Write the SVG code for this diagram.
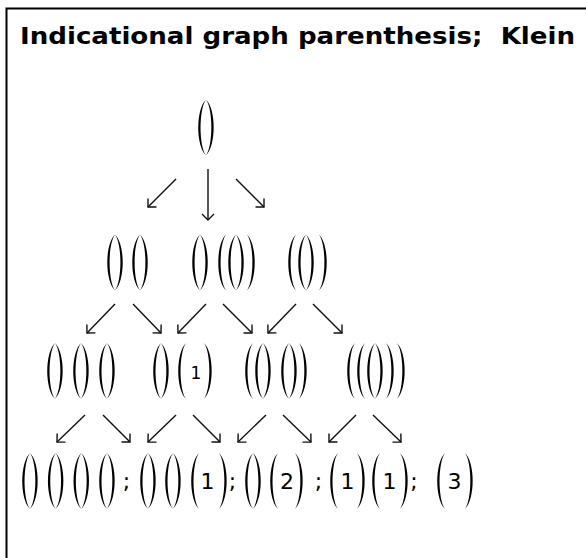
<svg xmlns="http://www.w3.org/2000/svg" xmlns:xlink="http://www.w3.org/1999/xlink" width="586" height="558" viewBox="0 0 586 558">
<style>
.title{font-family:"DejaVu Sans","Verdana",sans-serif;font-weight:bold;font-size:23px;fill:#000}
.d3{font-family:"DejaVu Sans",sans-serif;font-size:17px;fill:#000;text-anchor:middle}
.d4{font-family:"DejaVu Sans",sans-serif;font-size:22px;fill:#000;text-anchor:middle}
.p{fill:#000}
.arr{stroke:#111;stroke-width:1.4;fill:none;marker-end:url(#ah)}
</style>
<defs>
<marker id="ah" markerWidth="14" markerHeight="14" refX="0" refY="0" viewBox="-8 -7 10 14" orient="auto" markerUnits="userSpaceOnUse">
<path d="M-6,-6 L0,0 L-6,6" fill="none" stroke="#111" stroke-width="1.4"/>
</marker>
<path id="lp" d="M8,0 C-2.3,10 -2.3,46 8,56 C0.8,46 0.8,10 8,0 Z"/>
<path id="rp" d="M0,0 C10.3,10 10.3,46 0,56 C7.2,46 7.2,10 0,0 Z"/>
</defs>
<rect x="0" y="0" width="586" height="558" fill="#fff"/>
<path d="M6.5,560 L6.5,8.5 L590,8.5" fill="none" stroke="#000" stroke-width="2"/>
<text class="title" x="20" y="44" xml:space="preserve" textLength="555" lengthAdjust="spacingAndGlyphs">Indicational graph parenthesis;  Klein</text>

<g id="connectors">
<line class="arr" x1="176" y1="179" x2="148" y2="207"/>
<line class="arr" x1="208" y1="169" x2="208" y2="220"/>
<line class="arr" x1="236" y1="179" x2="264" y2="207"/>
<line class="arr" x1="115" y1="304" x2="87" y2="333"/>
<line class="arr" x1="133" y1="304" x2="161" y2="333"/>
<line class="arr" x1="206" y1="304" x2="178" y2="333"/>
<line class="arr" x1="223" y1="304" x2="252" y2="333"/>
<line class="arr" x1="296" y1="304" x2="268" y2="333"/>
<line class="arr" x1="313" y1="304" x2="342" y2="333"/>
<line class="arr" x1="85" y1="415" x2="57" y2="442"/>
<line class="arr" x1="103" y1="415" x2="130" y2="442"/>
<line class="arr" x1="176" y1="415" x2="148" y2="442"/>
<line class="arr" x1="193" y1="415" x2="220" y2="442"/>
<line class="arr" x1="266" y1="415" x2="238" y2="442"/>
<line class="arr" x1="283" y1="415" x2="311" y2="442"/>
<line class="arr" x1="356" y1="415" x2="329" y2="442"/>
<line class="arr" x1="373" y1="415" x2="401" y2="442"/>
</g>

<g id="n0" class="p">
<use xlink:href="#lp" x="198" y="99.5"/><use xlink:href="#rp" x="206" y="99.5"/>
</g>

<g id="n1" class="p">
<use xlink:href="#lp" x="107" y="234.5"/><use xlink:href="#rp" x="115" y="234.5"/>
<use xlink:href="#lp" x="132" y="234.5"/><use xlink:href="#rp" x="140" y="234.5"/>
</g>
<g id="n2" class="p">
<use xlink:href="#lp" x="192" y="234.5"/><use xlink:href="#rp" x="200" y="234.5"/>
<use xlink:href="#lp" x="218" y="234.5"/>
<use xlink:href="#lp" x="228" y="234.5"/><use xlink:href="#rp" x="236" y="234.5"/>
<use xlink:href="#rp" x="247" y="234.5"/>
</g>
<g id="n3" class="p">
<use xlink:href="#lp" x="288" y="234.5"/>
<use xlink:href="#lp" x="298" y="234.5"/><use xlink:href="#rp" x="306" y="234.5"/>
<use xlink:href="#rp" x="319" y="234.5"/>
</g>

<g id="n4" class="p">
<use xlink:href="#lp" x="47" y="343"/><use xlink:href="#rp" x="55" y="343"/>
<use xlink:href="#lp" x="73" y="343"/><use xlink:href="#rp" x="81" y="343"/>
<use xlink:href="#lp" x="99" y="343"/><use xlink:href="#rp" x="107" y="343"/>
</g>
<g id="n5" class="p">
<use xlink:href="#lp" x="153" y="343"/><use xlink:href="#rp" x="161" y="343"/>
<use xlink:href="#lp" x="178" y="343"/>
<text class="d3" x="196" y="378.5">1</text>
<use xlink:href="#rp" x="204" y="343"/>
</g>
<g id="n6" class="p">
<use xlink:href="#lp" x="245" y="343"/>
<use xlink:href="#lp" x="255" y="343"/><use xlink:href="#rp" x="263" y="343"/>
<use xlink:href="#lp" x="281" y="343"/><use xlink:href="#rp" x="289" y="343"/>
<use xlink:href="#rp" x="299" y="343"/>
</g>
<g id="n7" class="p">
<use xlink:href="#lp" x="347" y="343"/>
<use xlink:href="#lp" x="357" y="343"/>
<use xlink:href="#lp" x="367" y="343"/><use xlink:href="#rp" x="375" y="343"/>
<use xlink:href="#rp" x="386" y="343"/>
<use xlink:href="#rp" x="397" y="343"/>
</g>

<g id="n8" class="p">
<use xlink:href="#lp" x="22" y="453"/><use xlink:href="#rp" x="30" y="453"/>
<use xlink:href="#lp" x="47.7" y="453"/><use xlink:href="#rp" x="55.7" y="453"/>
<use xlink:href="#lp" x="73.3" y="453"/><use xlink:href="#rp" x="81.3" y="453"/>
<use xlink:href="#lp" x="99" y="453"/><use xlink:href="#rp" x="107" y="453"/>
<text class="d4" x="126.5" y="489">;</text>
</g>
<g id="n9" class="p">
<use xlink:href="#lp" x="140" y="453"/><use xlink:href="#rp" x="148" y="453"/>
<use xlink:href="#lp" x="165" y="453"/><use xlink:href="#rp" x="173" y="453"/>
<use xlink:href="#lp" x="191" y="453"/>
<text class="d4" x="207.5" y="489">1</text>
<use xlink:href="#rp" x="219" y="453"/>
<text class="d4" x="232.5" y="489">;</text>
</g>
<g id="n10" class="p">
<use xlink:href="#lp" x="245" y="453"/><use xlink:href="#rp" x="253" y="453"/>
<use xlink:href="#lp" x="270" y="453"/>
<text class="d4" x="287" y="489">2</text>
<use xlink:href="#rp" x="295" y="453"/>
<text class="d4" x="318.5" y="489">;</text>
</g>
<g id="n11" class="p">
<use xlink:href="#lp" x="330" y="453"/>
<text class="d4" x="347.5" y="489">1</text>
<use xlink:href="#rp" x="357" y="453"/>
<use xlink:href="#lp" x="372" y="453"/>
<text class="d4" x="389.5" y="489">1</text>
<use xlink:href="#rp" x="400" y="453"/>
<text class="d4" x="414" y="489">;</text>
</g>
<g id="n12" class="p">
<use xlink:href="#lp" x="437" y="453"/>
<text class="d4" x="454.5" y="489">3</text>
<use xlink:href="#rp" x="465" y="453"/>
</g>
</svg>
